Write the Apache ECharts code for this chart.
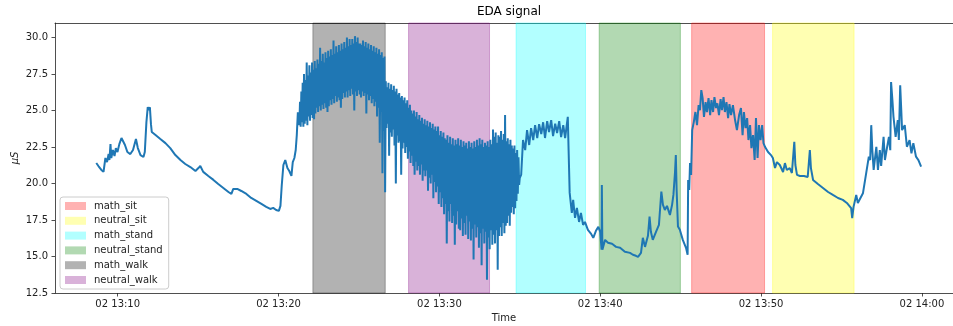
<!DOCTYPE html>
<html>
<head>
<meta charset="utf-8">
<title>EDA signal</title>
<script src="https://cdn.jsdelivr.net/npm/echarts@6/dist/echarts.min.js"></script>
<style>
  html, body { margin: 0; padding: 0; background: #fff; }
  #chart { width: 953px; height: 326px; }
</style>
</head>
<body>
<div id="chart"></div>
<script>
// [seconds after 13:00 on day 02, EDA in µS] (calm parts)
var edaBefore = [
  [520,21.41],[528,21.20],[539,20.93],[547,20.80],[554,21.75],[560,21.47],[566,22.02],[569,21.61],
  [573,22.70],[576,21.75],[582,22.30],[588,21.88],[593,22.43],[599,22.16],[606,22.70],[614,23.12],
  [620,23.18],[627,22.64],[636,22.16],[647,22.02],[657,22.30],[668,23.05],[675,22.43],[685,21.95],
  [696,21.82],[701,22.16],[707,24.21],[712,25.23],[716,25.03],[720,25.23],[724,24.07],[727,23.53],
  [741,23.32],[759,23.05],[778,22.77],[796,22.43],[815,21.95],[834,21.61],[852,21.34],[871,21.13],
  [890,20.86],[901,21.06],[908,21.20],[919,20.80],[938,20.52],[957,20.25],[975,19.97],[994,19.70],
  [1013,19.42],[1024,19.29],[1031,19.63],[1046,19.63],[1061,19.49],[1080,19.29],[1098,19.01],[1117,18.81],
  [1136,18.60],[1154,18.40],[1169,18.26],[1180,18.33],[1191,18.19],[1201,18.13],[1207,18.47],[1212,19.90],
  [1218,21.27],[1225,21.61],[1233,21.06],[1240,20.86],[1248,20.52],[1253,21.47],[1259,21.75],[1264,22.30],
  [1268,23.32],[1272,24.89]
];

// walking part: one reading every 2.5 s from 13:21:15
var denseStartSec = 1275;
var denseStepSec = 2.5;
var denseUs = [
  24.9, 24.0, 25.6, 23.9, 26.3, 24.2, 26.9, 23.9, 27.5, 24.1,
  27.1, 24.3, 28.3, 24.0, 27.4, 24.6, 28.1, 24.3, 27.6, 24.7,
  28.3, 24.5, 27.8, 24.4, 28.4, 24.8, 27.9, 25.2, 28.5, 24.9,
  28.2, 25.3, 29.3, 25.0, 28.4, 25.4, 28.9, 25.1, 28.3, 25.5,
  29.0, 25.2, 28.6, 24.9, 29.1, 25.3, 28.7, 25.7, 29.2, 25.4,
  28.8, 25.8, 29.8, 25.5, 28.9, 26.0, 29.4, 25.6, 29.0, 25.9,
  29.5, 25.7, 29.1, 25.2, 29.6, 25.8, 29.2, 26.2, 29.7, 25.9,
  29.3, 26.3, 30.0, 25.9, 29.4, 26.4, 29.9, 26.0, 29.5, 26.5,
  29.9, 26.1, 29.6, 25.0, 30.1, 26.3, 29.7, 26.0, 30.0, 26.4,
  29.6, 26.1, 29.6, 25.9, 29.5, 26.3, 29.8, 26.0, 29.4, 26.2,
  29.7, 24.8, 29.3, 26.1, 29.6, 25.7, 29.2, 26.0, 29.5, 25.5,
  29.1, 25.8, 29.4, 25.3, 29.0, 25.6, 29.3, 24.6, 28.9, 25.2,
  29.2, 22.8, 28.8, 24.9, 29.0, 20.7, 28.6, 23.6, 28.7, 19.4,
  27.0, 23.8, 26.6, 24.1, 26.9, 21.9, 26.5, 23.5, 26.8, 23.2,
  26.4, 23.7, 26.7, 22.6, 26.3, 20.0, 26.5, 23.3, 26.1, 22.8,
  26.2, 22.9, 25.9, 20.6, 26.0, 22.4, 25.7, 22.8, 25.9, 22.1,
  25.5, 22.5, 25.7, 21.7, 25.2, 22.2, 25.4, 21.4, 25.0, 21.9,
  24.8, 21.2, 25.0, 20.6, 24.6, 21.5, 24.9, 20.9, 24.4, 21.2,
  24.7, 20.6, 24.3, 21.3, 24.5, 20.2, 24.1, 20.9, 24.4, 20.5,
  24.0, 20.9, 24.3, 19.5, 23.9, 20.4, 24.2, 20.0, 23.8, 20.6,
  24.1, 19.0, 23.7, 20.1, 23.9, 19.4, 23.6, 19.8, 23.9, 18.6,
  23.3, 19.4, 23.6, 18.4, 23.2, 19.0, 23.5, 17.9, 23.1, 18.6,
  23.0, 15.9, 23.3, 18.1, 22.8, 17.4, 23.2, 18.6, 22.7, 17.3,
  23.1, 17.8, 22.6, 15.8, 23.0, 17.2, 22.7, 18.1, 23.1, 16.9,
  22.6, 16.8, 23.0, 17.6, 22.5, 16.4, 22.9, 17.3, 22.6, 16.5,
  22.8, 17.8, 22.4, 16.2, 22.9, 17.4, 22.5, 16.1, 22.8, 16.9,
  22.4, 14.8, 22.9, 17.2, 22.5, 16.3, 23.0, 17.0, 22.6, 15.6,
  23.1, 16.6, 22.7, 14.4, 23.0, 16.9, 22.5, 15.9, 22.8, 16.7,
  22.6, 13.4, 22.9, 16.3, 22.5, 15.5, 23.0, 16.8, 22.7, 15.8,
  23.7, 16.5, 23.2, 15.9, 23.5, 16.8, 22.8, 14.1, 23.3, 16.4,
  23.2, 17.0, 23.6, 16.4, 23.0, 17.3, 23.4, 16.6, 24.7, 17.1,
  22.9, 17.3, 23.1, 17.8, 22.7, 17.1, 23.0, 18.0, 22.6, 18.4,
  22.4, 17.9, 22.6, 18.3, 22.1, 18.8, 22.3, 19.3, 21.8, 19.9,
  20.4
];

var edaAfter = [
  [2105,20.59],[2112,22.98],[2120,22.29],[2127,23.66],[2135,22.64],[2142,23.80],[2150,22.98],[2157,24.00],
  [2165,23.12],[2172,24.07],[2180,23.39],[2187,24.20],[2194,23.12],[2202,24.28],[2209,23.53],[2217,24.35],
  [2224,23.25],[2232,24.10],[2239,23.46],[2247,24.28],[2254,23.18],[2262,24.00],[2269,23.12],[2279,24.57],
  [2282,22.29],[2286,19.36],[2294,17.99],[2299,18.88],[2306,17.65],[2313,18.33],[2321,17.37],[2328,17.99],
  [2336,17.17],[2343,17.37],[2354,16.83],[2366,16.55],[2374,16.28],[2384,16.76],[2393,17.03],[2400,16.69],
  [2405,15.46],[2406,19.90],[2408,15.46],[2418,16.14],[2429,15.94],[2444,15.87],[2459,15.66],[2474,15.60],
  [2492,15.32],[2511,15.25],[2522,15.12],[2533,15.05],[2541,14.98],[2552,15.25],[2559,16.28],[2567,15.66],
  [2578,16.42],[2584,17.74],[2589,16.69],[2596,16.14],[2608,16.69],[2619,17.17],[2628,19.45],[2634,18.54],
  [2641,18.19],[2649,18.47],[2660,17.85],[2668,18.54],[2673,19.22],[2679,20.79],[2682,21.95],[2685,19.56],
  [2690,17.05],[2697,16.83],[2708,16.14],[2720,15.60],[2726,15.12],[2728,20.24],[2732,19.56],[2735,21.40],
  [2739,20.59],[2743,23.66],[2749,24.21],[2755,24.90],[2761,24.00],[2767,25.37],[2772,25.03],[2777,26.40],
  [2782,25.85],[2787,24.57],[2793,25.58],[2798,24.90],[2804,25.85],[2810,24.69],[2815,25.71],[2821,24.90],
  [2826,25.92],[2832,25.17],[2837,25.50],[2843,24.69],[2849,25.78],[2854,25.03],[2860,25.92],[2865,24.90],
  [2871,25.58],[2877,24.48],[2882,25.44],[2888,24.69],[2895,25.37],[2903,24.35],[2910,23.66],[2918,24.69],
  [2925,25.17],[2931,23.32],[2936,24.90],[2942,23.80],[2948,24.48],[2953,22.98],[2959,24.00],[2964,22.43],
  [2970,23.32],[2976,21.61],[2981,24.48],[2987,21.75],[2992,24.00],[2998,22.98],[3004,24.00],[3009,22.77],
  [3015,22.50],[3026,22.16],[3037,21.95],[3044,21.75],[3052,21.06],[3059,21.47],[3070,21.27],[3082,20.79],
  [3089,21.40],[3096,20.93],[3107,21.06],[3115,20.72],[3124,22.86],[3128,21.27],[3134,20.59],[3145,20.52],
  [3160,20.52],[3174,20.45],[3182,22.29],[3186,21.06],[3194,20.24],[3212,19.97],[3231,19.70],[3250,19.42],
  [3268,19.22],[3287,19.01],[3305,18.88],[3320,18.67],[3336,18.31],[3340,17.63],[3345,18.40],[3355,19.22],
  [3361,18.67],[3368,18.54],[3380,19.33],[3392,20.70],[3402,21.84],[3407,21.61],[3411,24.00],[3415,22.29],
  [3420,20.93],[3430,22.52],[3436,20.93],[3443,22.29],[3448,21.20],[3457,23.20],[3462,21.61],[3467,22.16],
  [3477,23.20],[3482,22.29],[3485,26.96],[3490,25.71],[3494,24.57],[3502,23.20],[3510,24.35],[3514,22.98],
  [3519,26.74],[3523,25.03],[3526,23.66],[3536,24.00],[3544,22.52],[3554,22.98],[3561,22.07],[3568,22.77],
  [3578,21.84],[3587,21.61],[3597,21.16]
];

// experiment phases (seconds after 13:00)
var phaseNames = ['math_sit', 'neutral_sit', 'math_stand', 'neutral_stand', 'math_walk', 'neutral_walk'];
var phaseStart = [2741, 3043, 2086, 2396, 1328, 1685];
var phaseEnd   = [3013, 3347, 2345, 2699, 1598, 1987];

var xTicks = [600, 1200, 1800, 2400, 3000, 3600];
var yTicks = [12.5, 15, 17.5, 20, 22.5, 25, 27.5, 30];

var phaseColors = {
  math_sit: 'rgba(255,0,0,0.3)',
  neutral_sit: 'rgba(255,255,0,0.3)',
  math_stand: 'rgba(0,255,255,0.3)',
  neutral_stand: 'rgba(0,128,0,0.3)',
  math_walk: 'rgba(0,0,0,0.3)',
  neutral_walk: 'rgba(128,0,128,0.3)'
};

var FONT = 'DejaVu Sans';
var X_MIN = 366, X_MAX = 3716;   // right edge of the figure cuts the axes
var Y_MIN = 12.5, Y_MAX = 31.0;
var AXIS_COLOR = '#222';

var edaPoints = edaBefore
  .concat(denseUs.map(function (v, i) { return [denseStartSec + i * denseStepSec, v]; }))
  .concat(edaAfter);

function timeLabel(v) {
  var m = Math.round(v / 60);
  var h = 13 + Math.floor(m / 60);
  var mm = m % 60;
  return '02 ' + h + ':' + (mm < 10 ? '0' : '') + mm;
}

var chart = echarts.init(document.getElementById('chart'), null, { renderer: 'canvas' });

var series = phaseNames.map(function (name, i) {
  var color = phaseColors[name];
  return {
    name: name,
    type: 'custom',
    itemStyle: { color: color },
    encode: { x: [0, 1] },
    data: [[phaseStart[i], phaseEnd[i]]],
    z: 1,
    silent: true,
    renderItem: function (params, api) {
      var cs = params.coordSys;
      var x0 = api.coord([api.value(0), Y_MIN])[0];
      var x1 = api.coord([api.value(1), Y_MIN])[0];
      return {
        type: 'rect',
        shape: { x: x0, y: cs.y, width: x1 - x0, height: cs.height },
        style: { fill: color, stroke: color, lineWidth: 1 }
      };
    }
  };
});

series.push({
  name: 'EDA',
  type: 'line',
  data: edaPoints,
  symbol: 'none',
  showSymbol: false,
  sampling: null,
  z: 3,
  lineStyle: { color: '#1f77b4', width: 2 },
  itemStyle: { color: '#1f77b4' }
});

chart.setOption({
  animation: false,
  backgroundColor: '#fff',
  textStyle: { fontFamily: FONT },
  title: {
    text: 'EDA signal',
    left: 509,
    top: 6,
    padding: 0,
    textAlign: 'center',
    textStyle: { fontFamily: FONT, fontSize: 12, fontWeight: 'normal', color: '#000' }
  },
  grid: { left: 55, right: 0, top: 23, bottom: 33, containLabel: false, outerBoundsMode: 'none' },
  legend: {
    data: phaseNames,
    orient: 'vertical',
    left: 60, top: 197,
    icon: 'rect',
    itemWidth: 21, itemHeight: 8,
    itemGap: 2.8,
    padding: [3, 6, 3, 5],
    backgroundColor: 'rgba(255,255,255,0.8)',
    borderColor: '#cccccc', borderWidth: 1, borderRadius: 3,
    selectedMode: false,
    textStyle: { fontFamily: FONT, fontSize: 10, lineHeight: 12, color: '#222', padding: [0, 0, 0, 3] }
  },
  xAxis: [{
    type: 'value',
    min: X_MIN, max: X_MAX,
    name: 'Time',
    nameLocation: 'middle',
    nameGap: 20,
    nameTextStyle: { fontFamily: FONT, fontSize: 10, color: '#222' },
    axisLine: { show: true, lineStyle: { color: AXIS_COLOR, width: 0.8 } },
    axisTick: { show: true, customValues: xTicks, length: 3.5, lineStyle: { color: AXIS_COLOR, width: 0.8 } },
    axisLabel: { customValues: xTicks, formatter: timeLabel, fontFamily: FONT, fontSize: 10, color: '#222', margin: 6 },
    splitLine: { show: false }
  }, {
    // top spine only
    type: 'value',
    position: 'top',
    min: X_MIN, max: X_MAX,
    axisLine: { show: true, onZero: false, lineStyle: { color: AXIS_COLOR, width: 0.8 } },
    axisTick: { show: false },
    axisLabel: { show: false },
    splitLine: { show: false }
  }],
  yAxis: {
    type: 'value',
    min: Y_MIN, max: Y_MAX,
    name: 'μS',
    nameLocation: 'middle',
    nameRotate: 90,
    nameGap: 35,
    nameMoveOverlap: false,
    nameTextStyle: { fontFamily: FONT, fontSize: 10, color: '#222', fontStyle: 'italic' },
    axisLine: { show: true, lineStyle: { color: AXIS_COLOR, width: 0.8 } },
    axisTick: { show: true, customValues: yTicks, length: 3.5, lineStyle: { color: AXIS_COLOR, width: 0.8 } },
    axisLabel: {
      customValues: yTicks,
      formatter: function (v) { return v.toFixed(1); },
      fontFamily: FONT, fontSize: 10, color: '#222', margin: 7
    },
    splitLine: { show: false }
  },
  series: series
});
</script>
</body>
</html>
